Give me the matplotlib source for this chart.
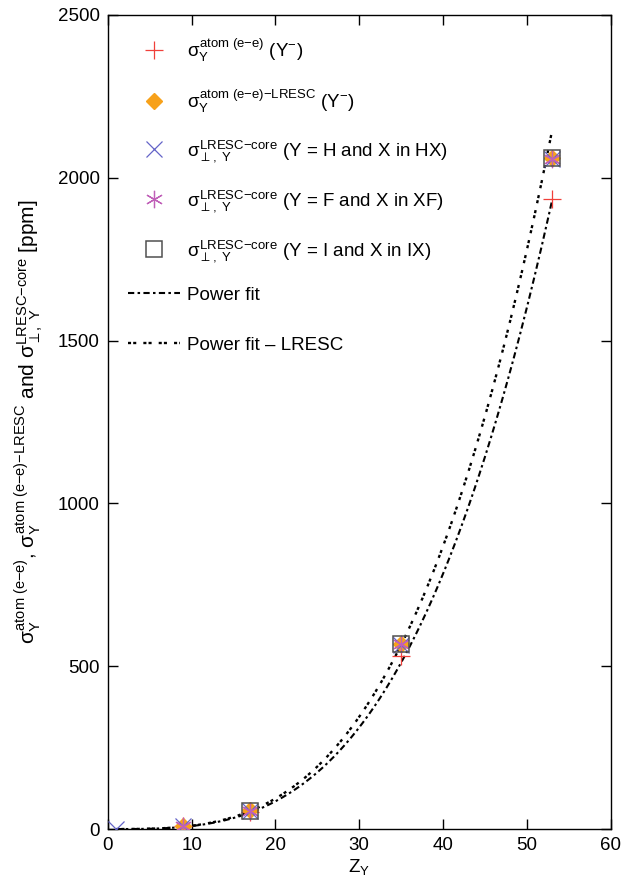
import matplotlib
matplotlib.use("Agg")
import matplotlib.pyplot as plt
import numpy as np

plt.rcParams["font.family"] = ["Liberation Sans", "DejaVu Sans"]
plt.rcParams["mathtext.fontset"] = "custom"
plt.rcParams["mathtext.rm"] = "Liberation Sans"
plt.rcParams["mathtext.it"] = "Liberation Sans"
plt.rcParams["mathtext.bf"] = "Liberation Sans:bold"
plt.rcParams["font.size"] = 13.5

# --- Data ---------------------------------------------------------------------
z_atom = [9, 17, 35, 53]
atom_ee = [8, 53, 531, 1935]            # sigma atom (e-e) Y-
atom_ee_lresc = [9, 58, 568, 2060]      # sigma atom (e-e)-LRESC Y-

z_hx = [1, 9, 17, 35, 53]
core_hx = [0.2, 9, 57, 566, 2058]       # Y = H and X in HX
z_xf = [9, 17, 35, 53]
core_xf = [9, 57, 567, 2059]            # Y = F and X in XF
z_ix = [17, 35, 53]
core_ix = [57, 567, 2060]               # Y = I and X in IX

# power fits y = a * Z^b
fit_a, fit_b = 0.00586, 3.20
fit_lresc_a, fit_lresc_b = 0.006257, 3.21
z_fit_min, z_fit_max = 1, 53

# --- Plot ---------------------------------------------------------------------
fig = plt.figure(figsize=(6.27, 8.82), dpi=100)
ax = fig.add_axes([0.172, 0.060, 0.802, 0.923])

zz = np.linspace(z_fit_min, z_fit_max, 300)
l_fit, = ax.plot(zz, fit_a * zz ** fit_b, color="black", lw=1.5,
                 dashes=(3.0, 1.6, 1.2, 1.6), zorder=3)
l_fit2, = ax.plot(zz, fit_lresc_a * zz ** fit_lresc_b, color="black", lw=1.7,
                  dashes=(1.3, 0.9, 1.3, 3.0), zorder=3)

h_red, = ax.plot(z_atom, atom_ee, ls="none", marker="+", ms=12.5, mew=0.9,
                 color="#f0403a", zorder=4)
h_dia, = ax.plot(z_atom, atom_ee_lresc, ls="none", marker="D", ms=8.5,
                 color="#f7a11a", mec="#f7a11a", zorder=4)
h_hx, = ax.plot(z_hx, core_hx, ls="none", marker="x", ms=12, mew=0.9,
                color="#6464c8", zorder=5)
h_xf, = ax.plot(z_xf, core_xf, ls="none", marker=(6, 2, 0), ms=12.5, mew=0.9,
                color="#c060b8", zorder=5)
h_ix, = ax.plot(z_ix, core_ix, ls="none", marker="s", ms=12, mew=1.1,
                mfc="none", mec="#505050", zorder=5)

marker_labels = [
    "$\u03c3_\\mathrm{Y}^\\mathrm{atom\\ (e{-}e)}$ (Y$^{-}$)",
    "$\u03c3_\\mathrm{Y}^\\mathrm{atom\\ (e{-}e){-}LRESC}$ (Y$^{-}$)",
    "$\u03c3_{\\perp,\\ \\mathrm{Y}}^\\mathrm{LRESC{-}core}$ (Y = H and X in HX)",
    "$\u03c3_{\\perp,\\ \\mathrm{Y}}^\\mathrm{LRESC{-}core}$ (Y = F and X in XF)",
    "$\u03c3_{\\perp,\\ \\mathrm{Y}}^\\mathrm{LRESC{-}core}$ (Y = I and X in IX)",
]
line_labels = ["Power fit", "Power fit \u2013 LRESC"]

leg1 = ax.legend([h_red, h_dia, h_hx, h_xf, h_ix], marker_labels,
                 loc="center left", bbox_to_anchor=(0.0, 0.834),
                 frameon=False, fontsize=13.5, handlelength=2.8,
                 labelspacing=1.27, borderaxespad=0.65, handletextpad=0.35)
ax.add_artist(leg1)
ax.legend([l_fit, l_fit2], line_labels,
          loc="center left", bbox_to_anchor=(0.0, 0.625),
          frameon=False, fontsize=13.5, handlelength=2.8,
          labelspacing=1.75, borderaxespad=0.65, handletextpad=0.35)

ax.set_xlim(0, 60)
ax.set_ylim(0, 2500)
ax.set_xticks(range(0, 61, 10))
ax.set_yticks(range(0, 2501, 500))
ax.tick_params(direction="in", top=True, right=True, length=7, width=1.0,
               labelsize=13.5, pad=6)
for s in ax.spines.values():
    s.set_linewidth(1.0)

ax.set_xlabel("Z$_\\mathrm{Y}$", fontsize=13.5, labelpad=2)
ax.set_ylabel("$\u03c3_\\mathrm{Y}^\\mathrm{atom\\ (e{-}e)}$, "
              "$\u03c3_\\mathrm{Y}^\\mathrm{atom\\ (e{-}e){-}LRESC}$ and "
              "$\u03c3_{\\perp,\\ \\mathrm{Y}}^\\mathrm{LRESC{-}core}$ [ppm]",
              fontsize=15, labelpad=9)

fig.savefig("out.png", dpi=100)
plt.close(fig)
